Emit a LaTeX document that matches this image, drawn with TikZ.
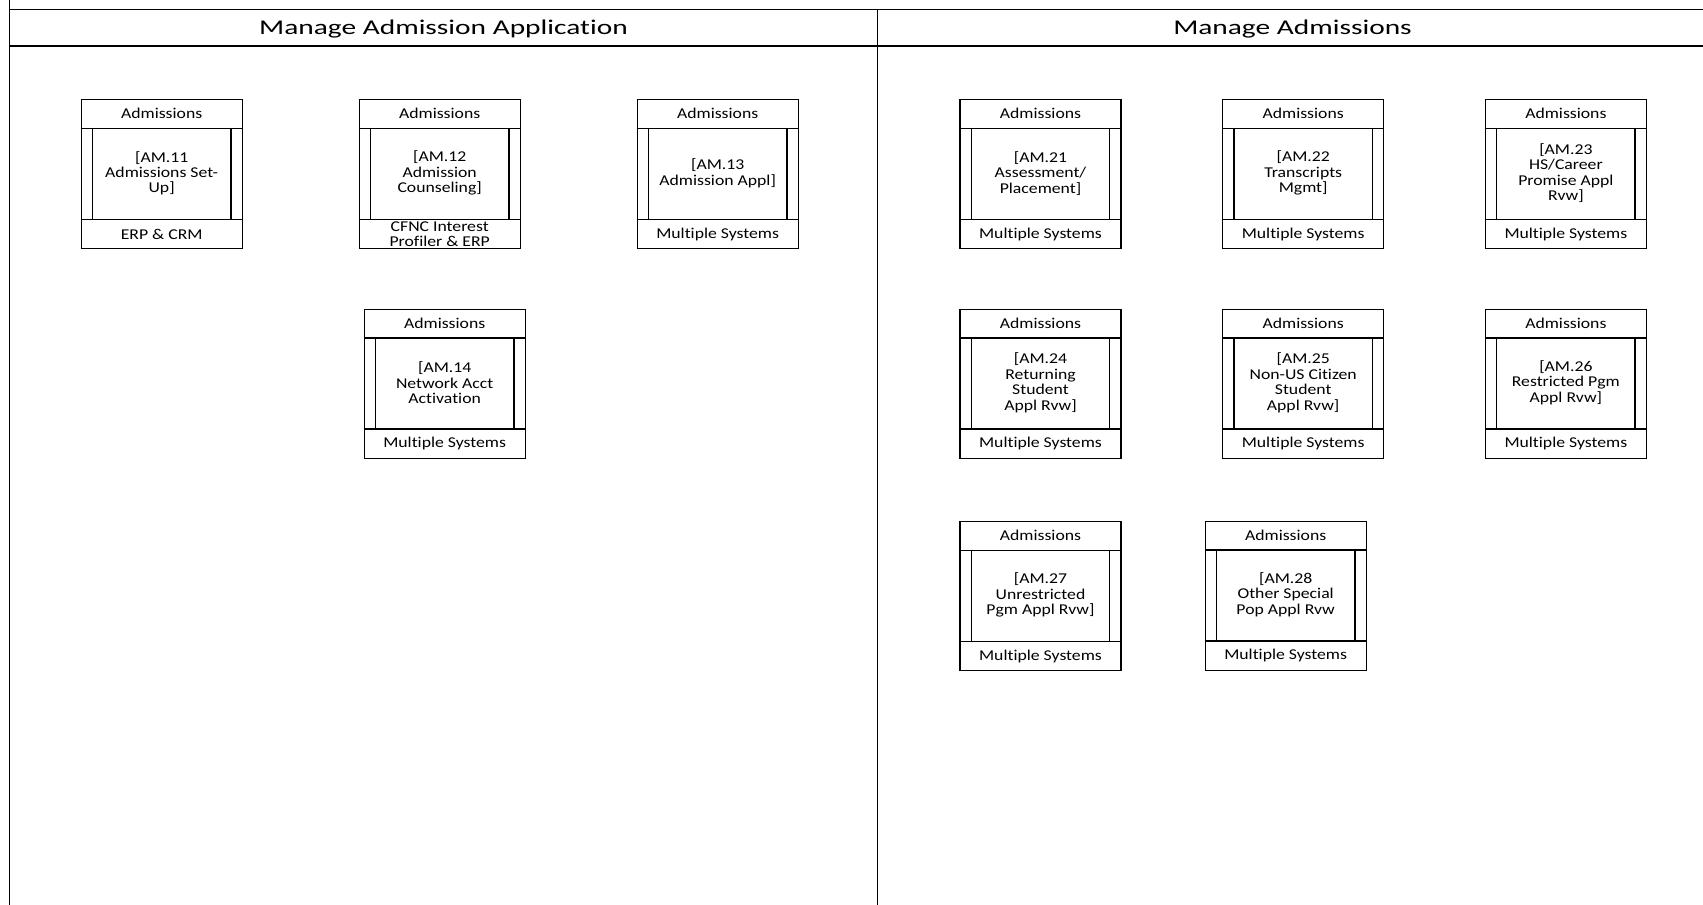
\documentclass[tikz,border=0pt]{standalone}
\usepackage{fontspec}
\setmainfont{Carlito}
\newfontfamily\boxfont[FakeStretch=1.18,Ligatures=NoCommon]{Carlito}
\newfontfamily\lanefont[FakeStretch=1.4,Ligatures=NoCommon]{Carlito}

% One process box: #1 name, #2 left, #3 top, #4 process text, #5 system text
\newcommand{\procbox}[5]{%
  \node[procframe] (#1) at (#2,#3) {};
  \draw[frame] ([yshift=-29.5pt]#1.north west) -- ([yshift=-29.5pt]#1.north east);
  \draw[frame] ([yshift=30pt]#1.south west) -- ([yshift=30pt]#1.south east);
  \draw[frame] ([shift={(12pt,-29.5pt)}]#1.north west) -- ([shift={(12pt,30pt)}]#1.south west);
  \draw[frame] ([shift={(-12pt,-29.5pt)}]#1.north east) -- ([shift={(-12pt,30pt)}]#1.south east);
  \node[cell] (#1-h) at ([yshift=-14.75pt]#1.north) {Admissions};
  \node[cell] (#1-m) at ([yshift=-74.25pt]#1.north) {#4};
  \node[cell] (#1-f) at ([yshift=15pt]#1.south) {#5};
}

\begin{document}
\begin{tikzpicture}[x=1pt,y=-1pt,
  frame/.style={line width=1.35pt},
  procframe/.style={draw, line width=1.35pt, minimum width=161pt, minimum height=149pt,
                    inner sep=0pt, anchor=north west},
  cell/.style={inner sep=0pt, align=center,
               font=\boxfont\fontsize{15}{15.4}\selectfont},
  lanetitle/.style={inner sep=0pt, anchor=base,
                    font=\lanefont\fontsize{21}{21}\selectfont}]
\useasboundingbox (0,0) rectangle (1703,905);

% swimlane frame
\coordinate (tl) at (9.3,9.3);
\coordinate (tr) at (1703,9.3);
\coordinate (bl) at (9.3,46);
\coordinate (br) at (1703,46);
\coordinate (ltop) at (9.3,0);
\coordinate (lbot) at (9.3,905);
\coordinate (dtop) at (877.7,9.3);
\coordinate (dbot) at (877.7,905);
\draw[frame] (ltop) -- (lbot);
\draw[frame] (tl) -- (tr);
\draw[frame] (bl) -- (br);
\draw[frame] (dtop) -- (dbot);

\node[lanetitle] (lane1) at (443.5,34.3) {Manage Admission Application};
\node[lanetitle] (lane2) at (1292.5,34.3) {Manage Admissions};

% first lane
\procbox{am11}{80.5}{99}{[AM.11\\Admissions Set-\\Up]}{ERP \& CRM}
\procbox{am12}{358.5}{99}{[AM.12\\Admission\\Counseling]}{CFNC Interest\\Profiler \& ERP}
\procbox{am13}{636.5}{99}{[AM.13\\Admission Appl]}{Multiple Systems}
\procbox{am14}{363.5}{308.5}{[AM.14\\Network Acct\\Activation}{Multiple Systems}

% second lane
\procbox{am21}{959.3}{99}{[AM.21\\Assessment/\\Placement]}{Multiple Systems}
\procbox{am22}{1222}{99}{[AM.22\\Transcripts\\Mgmt]}{Multiple Systems}
\procbox{am23}{1484.7}{99}{[AM.23\\HS/Career\\Promise Appl\\Rvw]}{Multiple Systems}
\procbox{am24}{959.3}{308.5}{[AM.24\\Returning\\Student\\Appl Rvw]}{Multiple Systems}
\procbox{am25}{1222}{308.5}{[AM.25\\Non-US Citizen\\Student\\Appl Rvw]}{Multiple Systems}
\procbox{am26}{1484.7}{308.5}{[AM.26\\Restricted Pgm\\Appl Rvw]}{Multiple Systems}
\procbox{am27}{959.3}{521}{[AM.27\\Unrestricted\\Pgm Appl Rvw]}{Multiple Systems}
\procbox{am28}{1204.5}{520.5}{[AM.28\\Other Special\\Pop Appl Rvw}{Multiple Systems}
\end{tikzpicture}
\end{document}
